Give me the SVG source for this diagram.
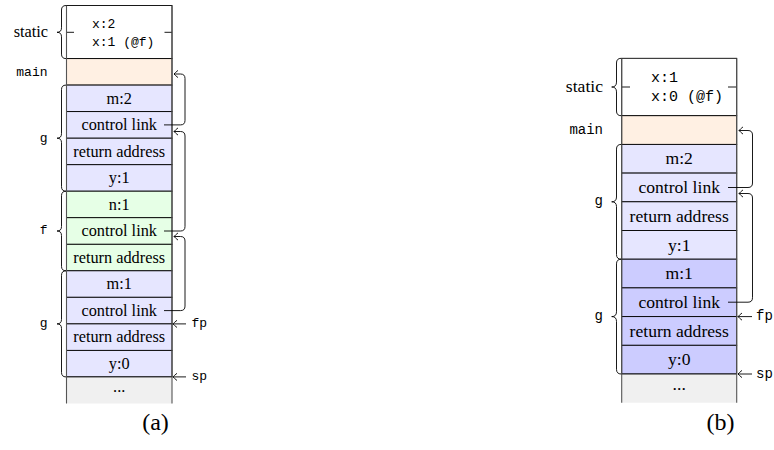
<svg xmlns="http://www.w3.org/2000/svg" width="774" height="450" viewBox="0 0 774 450">
  <style>
    .cell { stroke: #000; stroke-width: 0.9; }
    .side { stroke: #555; stroke-width: 1.1; fill: none; }
    .brace { fill: none; stroke: #000; stroke-width: 0.9; }
    .link { fill: none; stroke: #000; stroke-width: 0.9; marker-end: url(#to); }
    .rm { font-family: "Liberation Serif", "Times New Roman", serif; fill: #000; text-anchor: middle; }
    .tt { font-family: "Liberation Mono", "Courier New", monospace; fill: #000; }
    .a { font-size: 16.3px; }
    .b { font-size: 17.6px; }
    .blue1 { fill: #e6e6ff; }
    .blue2 { fill: #ccccff; }
    .green { fill: #e6ffe6; }
    .orange { fill: #fff0e3; }
    .gray { fill: #f0f0f0; }
    .white { fill: #fff; }
  </style>
  <defs>
    <marker id="to" markerUnits="userSpaceOnUse" markerWidth="12" markerHeight="12" refX="0" refY="0" viewBox="-6 -6 12 12" orient="auto" overflow="visible">
      <path d="M -4,-3.6 Q -1,-1.2 0,0 Q -1,1.2 -4,3.6" fill="none" stroke="#000" stroke-width="0.9"/>
    </marker>
  </defs>

  <!-- ===== (a) stack: main -> g -> f -> g ===== -->
  <g id="stack-a">
    <g id="a-static">
      <rect class="cell white" x="66.5" y="5.5" width="105.5" height="53.1"/>
      <line class="cell" x1="66.5" y1="32.3" x2="74" y2="32.3"/>
      <line class="cell" x1="164.5" y1="32.3" x2="172" y2="32.3"/>
      <text class="tt" font-size="13" x="92" y="27.5">x:2</text>
      <text class="tt" font-size="13" x="92" y="45.8">x:1 (@f)</text>
    </g>
    <g id="a-main"><rect class="cell orange" x="66.5" y="58.6" width="105.5" height="26.5"/></g>
    <g id="a-g1-m"><rect class="cell blue1" x="66.5" y="85.1" width="105.5" height="26.5"/><text class="rm a" x="119.2" y="103.5">m:2</text></g>
    <g id="a-g1-cl"><rect class="cell blue1" x="66.5" y="111.6" width="105.5" height="26.6"/><text class="rm a" x="119.2" y="130.1">control link</text></g>
    <g id="a-g1-ra"><rect class="cell blue1" x="66.5" y="138.2" width="105.5" height="26.5"/><text class="rm a" x="119.2" y="156.6">return address</text></g>
    <g id="a-g1-y"><rect class="cell blue1" x="66.5" y="164.7" width="105.5" height="26.5"/><text class="rm a" x="119.2" y="183.1">y:1</text></g>
    <g id="a-f-n"><rect class="cell green" x="66.5" y="191.2" width="105.5" height="26.5"/><text class="rm a" x="119.2" y="209.6">n:1</text></g>
    <g id="a-f-cl"><rect class="cell green" x="66.5" y="217.7" width="105.5" height="26.6"/><text class="rm a" x="119.2" y="236.2">control link</text></g>
    <g id="a-f-ra"><rect class="cell green" x="66.5" y="244.3" width="105.5" height="26.5"/><text class="rm a" x="119.2" y="262.7">return address</text></g>
    <g id="a-g2-m"><rect class="cell blue1" x="66.5" y="270.8" width="105.5" height="26.5"/><text class="rm a" x="119.2" y="289.2">m:1</text></g>
    <g id="a-g2-cl"><rect class="cell blue1" x="66.5" y="297.3" width="105.5" height="26.6"/><text class="rm a" x="119.2" y="315.8">control link</text></g>
    <g id="a-g2-ra"><rect class="cell blue1" x="66.5" y="323.9" width="105.5" height="26.5"/><text class="rm a" x="119.2" y="342.3">return address</text></g>
    <g id="a-g2-y"><rect class="cell blue1" x="66.5" y="350.4" width="105.5" height="26.5"/><text class="rm a" x="119.2" y="368.8">y:0</text></g>
    <g id="a-free">
      <rect class="gray" x="66.5" y="376.9" width="105.5" height="26.6"/>
      <line class="cell" x1="66.5" y1="376.9" x2="172" y2="376.9"/>
      <text class="rm a" x="119.2" y="392">...</text>
    </g>
    <path class="side" d="M66.5,5.5 V403.5 M172,5.5 V403.5"/>

    <!-- frame braces and labels -->
    <g id="a-labels">
      <path class="brace" d="M66,5.5 Q61.5,5.5 61.5,10 V27.8 Q61.5,32.3 57,32.3 Q61.5,32.3 61.5,36.8 V54.1 Q61.5,58.6 66,58.6"/>
      <text class="rm a" x="48" y="36.5" style="text-anchor:end">static</text>
      <text class="tt" font-size="13" text-anchor="end" x="47.5" y="75.5">main</text>
      <path class="brace" d="M66,85.1 Q61.5,85.1 61.5,89.6 V133.7 Q61.5,138.2 57,138.2 Q61.5,138.2 61.5,142.7 V186.7 Q61.5,191.2 66,191.2"/>
      <text class="tt" font-size="13" text-anchor="end" x="47.5" y="141.5">g</text>
      <path class="brace" d="M66,191.2 Q61.5,191.2 61.5,195.7 V226.5 Q61.5,231 57,231 Q61.5,231 61.5,235.5 V266.3 Q61.5,270.8 66,270.8"/>
      <text class="tt" font-size="13" text-anchor="end" x="47.5" y="234">f</text>
      <path class="brace" d="M66,270.8 Q61.5,270.8 61.5,275.3 V319.4 Q61.5,323.9 57,323.9 Q61.5,323.9 61.5,328.4 V372.4 Q61.5,376.9 66,376.9"/>
      <text class="tt" font-size="13" text-anchor="end" x="47.5" y="327">g</text>
    </g>
    <g id="a-pointers">
      <line class="link" x1="186" y1="323.9" x2="173" y2="323.9"/>
      <text class="tt" font-size="13" x="191.5" y="327">fp</text>
      <line class="link" x1="186" y1="376.9" x2="173" y2="376.9"/>
      <text class="tt" font-size="13" x="191.5" y="380">sp</text>
    </g>
    <text class="rm" font-size="24" x="155.5" y="430">(a)</text>
  </g>

  <!-- ===== (b) stack: main -> g -> g ===== -->
  <g id="stack-b">
    <g id="b-static">
      <rect class="cell white" x="621.7" y="58.3" width="115" height="57.4"/>
      <line class="cell" x1="621.7" y1="87" x2="630" y2="87"/>
      <line class="cell" x1="728" y1="87" x2="736.7" y2="87"/>
      <text class="tt" font-size="15" x="651" y="81.8">x:1</text>
      <text class="tt" font-size="15" x="651" y="100.8">x:0 (@f)</text>
    </g>
    <g id="b-main"><rect class="cell orange" x="621.7" y="115.7" width="115" height="28.7"/></g>
    <g id="b-g1-m"><rect class="cell blue1" x="621.7" y="144.4" width="115" height="28.7"/><text class="rm b" x="679.2" y="164.4">m:2</text></g>
    <g id="b-g1-cl"><rect class="cell blue1" x="621.7" y="173.1" width="115" height="28.7"/><text class="rm b" x="679.2" y="193.1">control link</text></g>
    <g id="b-g1-ra"><rect class="cell blue1" x="621.7" y="201.8" width="115" height="28.7"/><text class="rm b" x="679.2" y="221.8">return address</text></g>
    <g id="b-g1-y"><rect class="cell blue1" x="621.7" y="230.5" width="115" height="28.7"/><text class="rm b" x="679.2" y="250.5">y:1</text></g>
    <g id="b-g2-m"><rect class="cell blue2" x="621.7" y="259.2" width="115" height="28.7"/><text class="rm b" x="679.2" y="279.2">m:1</text></g>
    <g id="b-g2-cl"><rect class="cell blue2" x="621.7" y="287.9" width="115" height="28.7"/><text class="rm b" x="679.2" y="307.9">control link</text></g>
    <g id="b-g2-ra"><rect class="cell blue2" x="621.7" y="316.6" width="115" height="28.7"/><text class="rm b" x="679.2" y="336.6">return address</text></g>
    <g id="b-g2-y"><rect class="cell blue2" x="621.7" y="345.3" width="115" height="28.7"/><text class="rm b" x="679.2" y="365.3">y:0</text></g>
    <g id="b-free">
      <rect class="gray" x="621.7" y="374" width="115" height="28.7"/>
      <line class="cell" x1="621.7" y1="374" x2="736.7" y2="374"/>
      <text class="rm b" x="679.2" y="390">...</text>
    </g>
    <path class="side" d="M621.7,58.3 V402.7 M736.7,58.3 V402.7"/>

    <g id="b-labels">
      <path class="brace" d="M621.2,58.3 Q616.5,58.3 616.5,63 V82.1 Q616.5,87 611.7,87 Q616.5,87 616.5,91.9 V111 Q616.5,115.7 621.2,115.7"/>
      <text class="rm b" x="603" y="91.7" style="text-anchor:end">static</text>
      <text class="tt" font-size="14" text-anchor="end" x="603" y="133.5">main</text>
      <path class="brace" d="M621.2,144.4 Q616.5,144.4 616.5,149.1 V197 Q616.5,201.8 611.7,201.8 Q616.5,201.8 616.5,206.6 V254.5 Q616.5,259.2 621.2,259.2"/>
      <text class="tt" font-size="14" text-anchor="end" x="603" y="205">g</text>
      <path class="brace" d="M621.2,259.2 Q616.5,259.2 616.5,263.9 V311.8 Q616.5,316.6 611.7,316.6 Q616.5,316.6 616.5,321.4 V369.3 Q616.5,374 621.2,374"/>
      <text class="tt" font-size="14" text-anchor="end" x="603" y="320">g</text>
    </g>
    <g id="b-pointers">
      <line class="link" x1="752" y1="316.6" x2="738" y2="316.6"/>
      <text class="tt" font-size="14" x="756" y="320">fp</text>
      <line class="link" x1="752" y1="374" x2="738" y2="374"/>
      <text class="tt" font-size="14" x="756" y="377.5">sp</text>
    </g>
    <text class="rm" font-size="24" x="720.5" y="430">(b)</text>
  </g>

  <!-- control links: each frame points back to its caller -->
  <g id="connectors">
    <path class="link" d="M164,124.9 H180.5 Q185,124.9 185,120.4 V78.5 Q185,74 180.5,74 H174"/>
    <path class="link" d="M164,231 H180.5 Q185,231 185,226.5 V136 Q185,131.5 180.5,131.5 H174"/>
    <path class="link" d="M164,310.6 H180.5 Q185,310.6 185,306.1 V241 Q185,236.5 180.5,236.5 H174"/>
    <path class="link" d="M728,187.5 H748 Q752.5,187.5 752.5,183 V135 Q752.5,130.5 748,130.5 H739"/>
    <path class="link" d="M728,302.2 H748 Q752.5,302.2 752.5,297.7 V198 Q752.5,193.5 748,193.5 H739"/>
  </g>
</svg>
